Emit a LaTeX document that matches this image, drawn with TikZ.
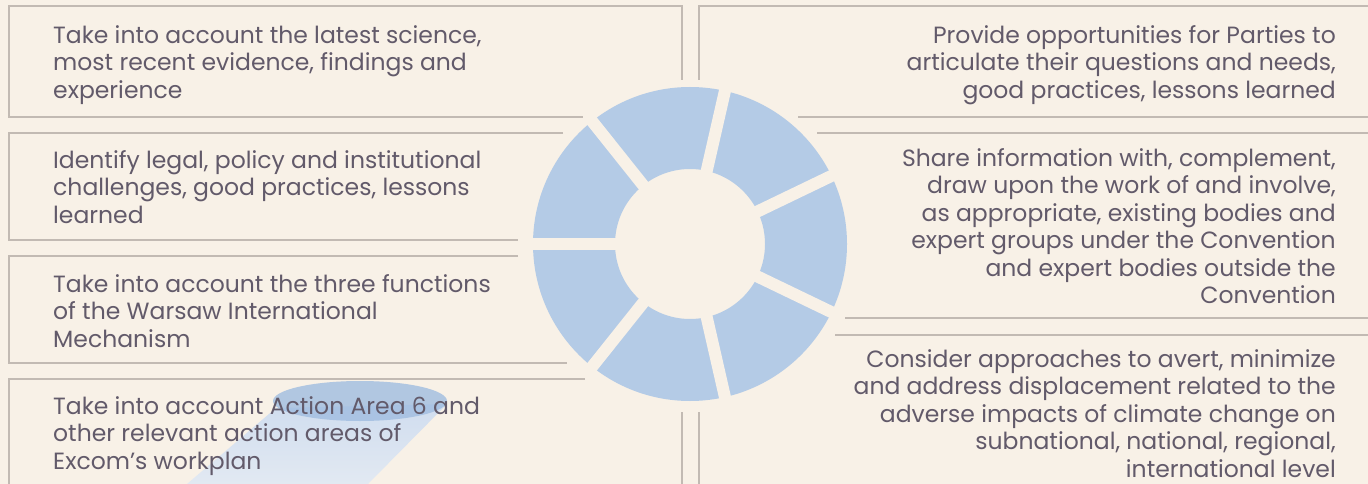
\documentclass[tikz,border=0pt]{standalone}
\usepackage{fontspec}
\setmainfont{Poppins}
\usepackage{tikz}
\usetikzlibrary{calc}

\definecolor{paper}{RGB}{248,241,231}
\definecolor{ringblue}{RGB}{180,203,230}
\definecolor{rulegrey}{RGB}{194,186,179}
\definecolor{ink}{RGB}{98,90,106}
\definecolor{spot}{RGB}{160,189,224}
\definecolor{beam}{RGB}{208,221,239}
\definecolor{beamlow}{RGB}{226,233,242}

\tikzset{
  frame/.style={draw=rulegrey, line width=2pt},
  gap/.style={draw=paper, line width=12pt},
  lefttext/.style={anchor=north west, align=left, inner sep=0pt, text=ink,
    font=\fontsize{23.5}{27.5}\selectfont},
  righttext/.style={anchor=north east, align=right, inner sep=0pt, text=ink,
    font=\fontsize{23.5}{27.5}\selectfont}
}

\begin{document}
\begin{tikzpicture}[x=1pt,y=-1pt]
    \fill[paper] (0,0) rectangle (1368,484);
    \useasboundingbox (0,0) rectangle (1368,484);
    \coordinate (c) at (690,244);
    % ring
    \fill[ringblue, even odd rule] (c) circle (157pt) (c) circle (75pt);
    \draw[gap] (c) -- ++(180:165pt);
    \draw[gap] (c) -- ++(128.57:165pt);
    \draw[gap] (c) -- ++(77.14:165pt);
    \draw[gap] (c) -- ++(25.71:165pt);
    \draw[gap] (c) -- ++(-25.71:165pt);
    \draw[gap] (c) -- ++(-77.14:165pt);
    \draw[gap] (c) -- ++(-128.57:165pt);
    % spotlight
    \shade[top color=beam, bottom color=beamlow] (187,484) -- (276,408) -- (447,404) -- (368,484) -- cycle;
    \fill[spot, opacity=.8] (360,401) ellipse (87pt and 20pt);
    % frames
    \draw[frame] (682,80) -- (682,6) -- (9,6) -- (9,117) -- (583,117);
    \draw[frame] (563,133) -- (9,133) -- (9,240) -- (518,240);
    \draw[frame] (518,256) -- (9,256) -- (9,363) -- (567,363);
    \draw[frame] (585,379) -- (9,379) -- (9,484);
    \draw[frame] (699,80) -- (699,6) -- (1368,6);
    \draw[frame] (798,117) -- (1368,117);
    \draw[frame] (817,133) -- (1368,133);
    \draw[frame] (845,318) -- (1368,318);
    \draw[frame] (835,335) -- (1368,335);
    \draw[frame] (682,412) -- (682,484);
    \draw[frame] (699,412) -- (699,484);
    % texts
    \node[lefttext] (l1) at (53,23.75) {\strut Take into account the latest science,\\ most recent evidence, findings and\\ experience};
    \node[lefttext] (l2) at (53,148.75) {\strut Identify legal, policy and institutional\\ challenges, good practices, lessons\\ learned};
    \node[lefttext] (l3) at (53,272.75) {\strut Take into account the three functions\\ of the Warsaw International\\ Mechanism};
    \node[lefttext] (l4) at (53,394.75) {\strut Take into account Action Area 6 and\\ other relevant action areas of\\ Excom's workplan};
    \node[righttext] (r1) at (1336,23.75) {\strut Provide opportunities for Parties to\\ articulate their questions and needs,\\ good practices, lessons learned};
    \node[righttext] (r2) at (1336,146.75) {\strut Share information with, complement,\\ draw upon the work of and involve,\\ as appropriate, existing bodies and\\ expert groups under the Convention\\ and expert bodies outside the\\ Convention};
    \node[righttext] (r3) at (1336,347.75) {\strut Consider approaches to avert, minimize\\ and address displacement related to the\\ adverse impacts of climate change on\\ subnational, national, regional,\\ international level};
\end{tikzpicture}
\end{document}
